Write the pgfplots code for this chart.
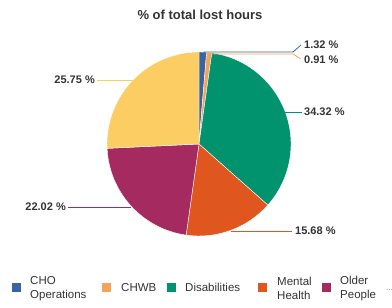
\documentclass[border=0pt]{standalone}
\usepackage{pgfplots}
\pgfplotsset{compat=1.18}
\usepackage{pgfplotstable}
\usepackage{fontspec}
\setmainfont{Liberation Sans}
\definecolor{cCHO}{HTML}{3A64A0}
\definecolor{cCHWB}{HTML}{F3A35A}
\definecolor{cDis}{HTML}{00936E}
\definecolor{cMen}{HTML}{E0561F}
\definecolor{cOld}{HTML}{A52A60}
\definecolor{cOth}{HTML}{FCCD63}
\definecolor{txt}{HTML}{333333}
\pgfplotstableread{
label value
CHO 1.32
CHWB 0.91
Disabilities 34.32
Mental 15.68
Older 22.02
Other 25.75
}\piedata
\begin{document}
\begin{tikzpicture}
\pgfplotstablegetelem{0}{value}\of\piedata\let\vA\pgfplotsretval
\pgfplotstablegetelem{1}{value}\of\piedata\let\vB\pgfplotsretval
\pgfplotstablegetelem{2}{value}\of\piedata\let\vC\pgfplotsretval
\pgfplotstablegetelem{3}{value}\of\piedata\let\vD\pgfplotsretval
\pgfplotstablegetelem{4}{value}\of\piedata\let\vE\pgfplotsretval
\pgfplotstablegetelem{5}{value}\of\piedata\let\vF\pgfplotsretval
\pgfmathsetmacro\aA{90-3.6*\vA}
\pgfmathsetmacro\aB{\aA-3.6*\vB}
\pgfmathsetmacro\aC{\aB-3.6*\vC}
\pgfmathsetmacro\aD{\aC-3.6*\vD}
\pgfmathsetmacro\aE{\aD-3.6*\vE}
\pgfmathsetmacro\aF{\aE-3.6*\vF}
\begin{axis}[
  scale only axis, width=392pt, height=308pt,
  xmin=0, xmax=392, ymin=0, ymax=308,
  axis lines=none, xtick=\empty, ytick=\empty,
  clip=false,
]
\path (axis cs:0,0) rectangle (axis cs:392,308);
% pie slices
\def\cc{axis cs:199,164}
\fill[cCHO, draw=white, line width=0.4pt] (\cc) -- ([shift={(90:92pt)}]\cc) arc[start angle=90, end angle=\aA, radius=92pt] -- cycle;
\fill[cCHWB, draw=white, line width=0.4pt] (\cc) -- ([shift={(\aA:92pt)}]\cc) arc[start angle=\aA, end angle=\aB, radius=92pt] -- cycle;
\fill[cDis, draw=white, line width=0.4pt] (\cc) -- ([shift={(\aB:92pt)}]\cc) arc[start angle=\aB, end angle=\aC, radius=92pt] -- cycle;
\fill[cMen, draw=white, line width=0.4pt] (\cc) -- ([shift={(\aC:92pt)}]\cc) arc[start angle=\aC, end angle=\aD, radius=92pt] -- cycle;
\fill[cOld, draw=white, line width=0.4pt] (\cc) -- ([shift={(\aD:92pt)}]\cc) arc[start angle=\aD, end angle=\aE, radius=92pt] -- cycle;
\fill[cOth, draw=white, line width=0.4pt] (\cc) -- ([shift={(\aE:92pt)}]\cc) arc[start angle=\aE, end angle=\aF, radius=92pt] -- cycle;
% leader lines
\draw[cOth, line width=0.8pt] (axis cs:97,228) -- (axis cs:133,228);
\draw[cOld, line width=0.8pt] (axis cs:68,101) -- (axis cs:131,101);
\draw[cMen, line width=0.8pt] (axis cs:231,77) -- (axis cs:292,77);
\draw[cDis, line width=0.8pt] (axis cs:285,196) -- (axis cs:302,196);
\draw[cCHO, line width=0.8pt] (axis cs:204,253) -- (axis cs:204,256) -- (axis cs:293,256) -- (axis cs:301,263);
\draw[cCHWB, line width=0.8pt] (axis cs:207,253) -- (axis cs:207,254) -- (axis cs:293,254) -- (axis cs:301,249);
% labels
\begin{scope}[every node/.style={font=\fontsize{11}{13}\selectfont\bfseries, text=txt, inner sep=0pt}]
\node[anchor=east] at (axis cs:95,228) {25.75 \%};
\node[anchor=east] at (axis cs:66,101) {22.02 \%};
\node[anchor=west] at (axis cs:295,77) {15.68 \%};
\node[anchor=west] at (axis cs:304,196) {34.32 \%};
\node[anchor=west] at (axis cs:304,263) {1.32 \%};
\node[anchor=west] at (axis cs:304,248) {0.91 \%};
\end{scope}
% title
\node[font=\fontsize{13}{15}\selectfont\bfseries, text=txt, inner sep=0pt] at (axis cs:200,293) {\% of total lost hours};
% legend
\begin{scope}[every node/.style={font=\fontsize{11.5}{14}\selectfont, text=txt, inner sep=0pt, anchor=west, align=left}]
\fill[cCHO] (axis cs:12,16.3) rectangle (axis cs:20.5,24.8);
\node at (axis cs:30,19.5) {CHO\\Operations};
\fill[cCHWB] (axis cs:102,16.3) rectangle (axis cs:110.5,24.8);
\node at (axis cs:121,20.5) {CHWB};
\fill[cDis] (axis cs:167,16.3) rectangle (axis cs:175.5,24.8);
\node at (axis cs:185,20.5) {Disabilities};
\fill[cMen] (axis cs:258,16.3) rectangle (axis cs:266.5,24.8);
\node at (axis cs:277,19.5) {Mental\\Health};
\fill[cOld] (axis cs:322,16.3) rectangle (axis cs:330.5,24.8);
\node at (axis cs:340,19.5) {Older\\People};
\node[overlay, text=gray, font=\fontsize{8}{9}\selectfont] at (axis cs:386,18) {...};
\end{scope}
\end{axis}
\end{tikzpicture}
\end{document}
